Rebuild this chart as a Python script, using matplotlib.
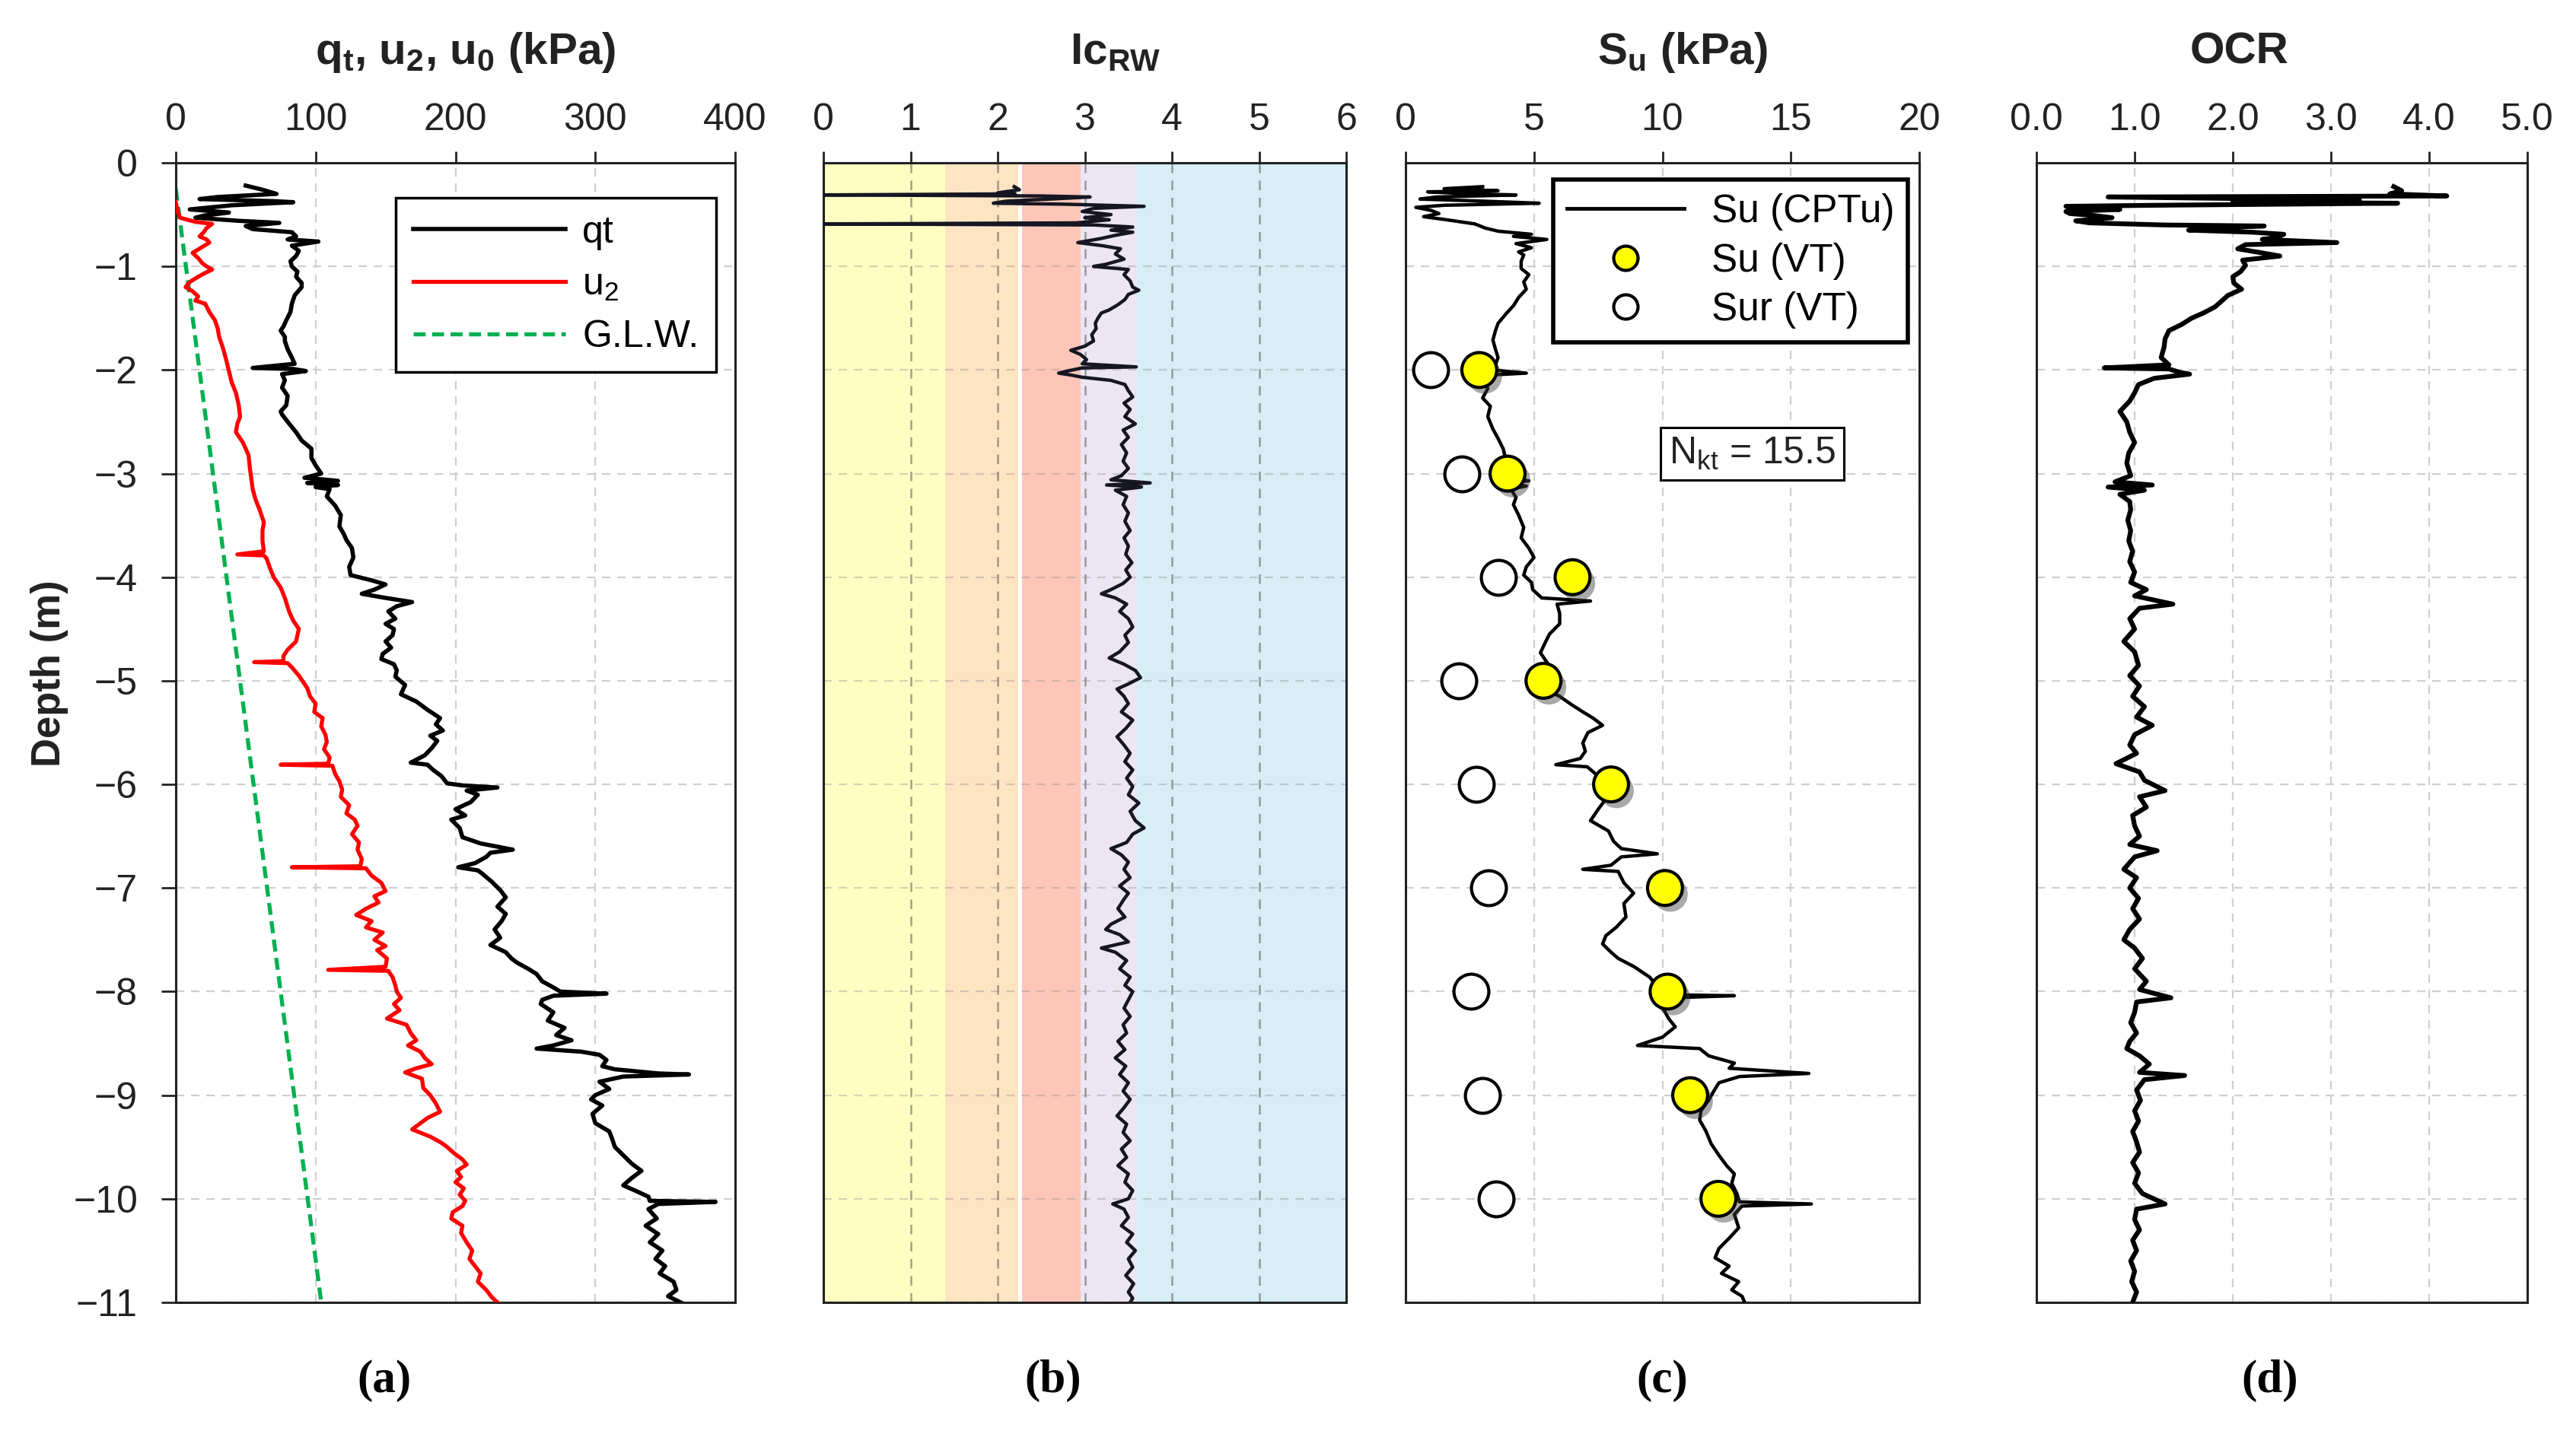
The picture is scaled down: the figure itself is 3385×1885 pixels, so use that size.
import numpy as np
import matplotlib
matplotlib.use('Agg')
import matplotlib.pyplot as plt
import matplotlib.patheffects as pe
from matplotlib.lines import Line2D

plt.rcParams['font.family'] = ['Liberation Sans', 'DejaVu Sans']
plt.rcParams['mathtext.default'] = 'regular'

# ---- data: (depth m, value) ----
qt_pts = [(-0.22, 50), (-0.26, 62), (-0.30, 72), (-0.33, 30), (-0.35, 17), (-0.37, 70), (-0.38, 84), (-0.41, 40),
          (-0.45, 10), (-0.48, 38), (-0.51, 20), (-0.53, 14), (-0.56, 45), (-0.58, 74), (-0.61, 50), (-0.64, 55),
          (-0.67, 83), (-0.71, 86), (-0.74, 80), (-0.76, 102), (-0.80, 83), (-0.85, 88), (-0.90, 86), (-0.95, 82),
          (-1.00, 83), (-1.05, 87), (-1.10, 86), (-1.16, 90), (-1.20, 90), (-1.28, 85), (-1.36, 83), (-1.44, 82),
          (-1.52, 79), (-1.58, 77), (-1.62, 75), (-1.68, 78), (-1.72, 78), (-1.80, 80), (-1.88, 83), (-1.94, 85),
          (-1.98, 55), (-1.99, 84), (-2.01, 93), (-2.04, 76), (-2.10, 78), (-2.17, 76), (-2.25, 80), (-2.34, 79),
          (-2.40, 75), (-2.43, 76), (-2.50, 80), (-2.60, 86), (-2.68, 90), (-2.76, 97), (-2.85, 97), (-2.92, 100),
          (-3.00, 104), (-3.04, 92), (-3.07, 116), (-3.09, 94), (-3.11, 116), (-3.13, 100), (-3.15, 110), (-3.22, 108),
          (-3.31, 114), (-3.40, 118), (-3.51, 117), (-3.58, 120), (-3.64, 122), (-3.72, 126), (-3.81, 127), (-3.90, 124),
          (-3.98, 125), (-4.03, 140), (-4.07, 150), (-4.12, 142), (-4.16, 133), (-4.20, 150), (-4.24, 169), (-4.28, 158),
          (-4.33, 152), (-4.40, 157), (-4.45, 150), (-4.50, 156), (-4.56, 155), (-4.62, 150), (-4.68, 154), (-4.74, 148),
          (-4.79, 147), (-4.84, 156), (-4.90, 158), (-4.96, 157), (-5.04, 164), (-5.13, 161), (-5.20, 172), (-5.28, 180),
          (-5.36, 189), (-5.42, 186), (-5.48, 191), (-5.53, 182), (-5.58, 187), (-5.65, 183), (-5.72, 178), (-5.79, 168),
          (-5.81, 180), (-5.86, 184), (-5.92, 190), (-5.99, 194), (-6.01, 205), (-6.03, 230), (-6.06, 208), (-6.10, 216),
          (-6.17, 211), (-6.24, 200), (-6.30, 207), (-6.34, 197), (-6.42, 203), (-6.51, 205), (-6.57, 218), (-6.63, 241),
          (-6.66, 225), (-6.70, 222), (-6.76, 214), (-6.80, 202), (-6.83, 216), (-6.86, 219), (-6.94, 226), (-7.02, 232),
          (-7.09, 236), (-7.18, 230), (-7.25, 236), (-7.32, 233), (-7.40, 228), (-7.48, 232), (-7.55, 225), (-7.62, 236),
          (-7.68, 240), (-7.72, 244), (-7.78, 252), (-7.83, 258), (-7.90, 262), (-7.96, 270), (-8.00, 275), (-8.02, 308),
          (-8.04, 270), (-8.08, 262), (-8.12, 261), (-8.20, 270), (-8.28, 266), (-8.35, 278), (-8.42, 272), (-8.47, 283),
          (-8.52, 270), (-8.55, 258), (-8.58, 290), (-8.61, 303), (-8.66, 308), (-8.72, 305), (-8.75, 314), (-8.79, 345),
          (-8.80, 367), (-8.82, 320), (-8.87, 303), (-8.94, 310), (-9.00, 300), (-9.04, 297), (-9.10, 305), (-9.18, 298),
          (-9.27, 300), (-9.35, 310), (-9.42, 312), (-9.50, 314), (-9.58, 320), (-9.66, 326), (-9.73, 333), (-9.80, 326),
          (-9.87, 320), (-9.93, 330), (-9.98, 338), (-10.02, 339), (-10.03, 386), (-10.05, 345), (-10.10, 338), (-10.19, 344),
          (-10.26, 336), (-10.34, 345), (-10.42, 339), (-10.50, 348), (-10.58, 343), (-10.65, 350), (-10.72, 346), (-10.80, 356),
          (-10.88, 358), (-10.94, 352), (-11.00, 361)]

u2_pts = [(-0.38, 0), (-0.45, 1), (-0.53, 3), (-0.57, 14), (-0.59, 26), (-0.63, 22), (-0.67, 20), (-0.71, 17),
          (-0.74, 22), (-0.77, 24), (-0.82, 18), (-0.87, 12), (-0.92, 16), (-0.97, 19), (-1.00, 22), (-1.03, 26),
          (-1.07, 20), (-1.10, 16), (-1.15, 10), (-1.20, 7), (-1.24, 12), (-1.29, 16), (-1.33, 14), (-1.36, 21),
          (-1.44, 24), (-1.52, 28), (-1.60, 30), (-1.68, 31), (-1.80, 34), (-1.90, 36), (-2.01, 38), (-2.12, 40),
          (-2.22, 43), (-2.34, 45), (-2.45, 46), (-2.52, 44), (-2.60, 43), (-2.70, 48), (-2.82, 52), (-2.95, 53),
          (-3.05, 54), (-3.15, 55), (-3.25, 57), (-3.35, 60), (-3.47, 63), (-3.55, 62), (-3.65, 62), (-3.75, 63),
          (-3.78, 44), (-3.79, 63), (-3.82, 65), (-3.90, 67), (-4.00, 70), (-4.10, 75), (-4.20, 78), (-4.33, 81),
          (-4.42, 84), (-4.50, 88), (-4.56, 87), (-4.62, 86), (-4.70, 80), (-4.76, 77), (-4.81, 77), (-4.82, 56),
          (-4.83, 80), (-4.87, 83), (-4.95, 88), (-5.07, 94), (-5.15, 96), (-5.22, 100), (-5.30, 99), (-5.36, 105),
          (-5.44, 104), (-5.52, 107), (-5.59, 108), (-5.66, 106), (-5.74, 110), (-5.80, 109), (-5.81, 75), (-5.82, 112),
          (-5.90, 114), (-5.97, 117), (-6.05, 119), (-6.12, 118), (-6.20, 124), (-6.28, 122), (-6.34, 128), (-6.40, 130),
          (-6.48, 126), (-6.56, 131), (-6.63, 130), (-6.72, 133), (-6.79, 132), (-6.80, 83), (-6.81, 136), (-6.88, 140),
          (-6.95, 147), (-7.03, 150), (-7.08, 142), (-7.14, 145), (-7.20, 136), (-7.26, 129), (-7.32, 140), (-7.38, 136),
          (-7.43, 148), (-7.50, 142), (-7.56, 150), (-7.60, 144), (-7.68, 151), (-7.76, 150), (-7.79, 109), (-7.80, 152),
          (-7.86, 155), (-7.94, 157), (-8.00, 158), (-8.06, 161), (-8.12, 156), (-8.18, 160), (-8.26, 151), (-8.32, 165),
          (-8.40, 168), (-8.47, 172), (-8.52, 166), (-8.58, 175), (-8.64, 178), (-8.70, 183), (-8.74, 172), (-8.78, 164),
          (-8.84, 176), (-8.93, 177), (-9.00, 182), (-9.08, 186), (-9.16, 189), (-9.22, 180), (-9.28, 174), (-9.33, 169),
          (-9.40, 182), (-9.46, 190), (-9.50, 194), (-9.56, 199), (-9.62, 205), (-9.67, 208), (-9.73, 201), (-9.79, 204),
          (-9.84, 200), (-9.90, 206), (-9.96, 203), (-10.02, 207), (-10.07, 205), (-10.13, 198), (-10.19, 197), (-10.26, 205),
          (-10.33, 204), (-10.42, 208), (-10.50, 212), (-10.58, 210), (-10.65, 214), (-10.72, 218), (-10.80, 216), (-10.88, 222),
          (-10.95, 226), (-11.00, 230)]

glw_pts = [(-0.25, 0), (-11.0, 104)]

ic_pts = [(-0.23, 2.19), (-0.26, 2.25), (-0.29, 2.0), (-0.30, 2.2), (-0.31, 0.0), (-0.32, 2.5), (-0.33, 3.06), (-0.35, 2.6),
          (-0.37, 2.1), (-0.39, 1.95), (-0.40, 2.8), (-0.42, 3.68), (-0.44, 3.1), (-0.47, 2.97), (-0.50, 3.3), (-0.53, 3.0),
          (-0.55, 3.28), (-0.58, 2.9), (-0.59, 0.0), (-0.60, 3.1), (-0.62, 3.55), (-0.65, 3.3), (-0.67, 3.55), (-0.70, 3.35),
          (-0.73, 3.19), (-0.77, 2.92), (-0.80, 3.2), (-0.83, 3.41), (-0.88, 3.35), (-0.93, 3.45), (-0.98, 3.24), (-1.00, 3.1),
          (-1.03, 3.5), (-1.08, 3.45), (-1.14, 3.52), (-1.20, 3.55), (-1.23, 3.62), (-1.27, 3.5), (-1.32, 3.46), (-1.37, 3.38),
          (-1.42, 3.28), (-1.45, 3.19), (-1.50, 3.15), (-1.55, 3.12), (-1.60, 3.13), (-1.66, 3.08), (-1.72, 3.1), (-1.77, 3.0),
          (-1.81, 2.84), (-1.85, 2.95), (-1.90, 3.02), (-1.94, 2.97), (-1.97, 3.59), (-1.98, 2.97), (-2.01, 2.8), (-2.03, 2.7),
          (-2.05, 2.85), (-2.07, 2.97), (-2.10, 3.3), (-2.14, 3.46), (-2.20, 3.5), (-2.26, 3.55), (-2.32, 3.45), (-2.38, 3.52),
          (-2.45, 3.46), (-2.52, 3.58), (-2.58, 3.44), (-2.65, 3.5), (-2.72, 3.42), (-2.80, 3.48), (-2.88, 3.44), (-2.95, 3.5),
          (-3.02, 3.42), (-3.06, 3.3), (-3.09, 3.75), (-3.11, 3.25), (-3.13, 3.65), (-3.16, 3.35), (-3.22, 3.48), (-3.30, 3.44),
          (-3.38, 3.5), (-3.46, 3.46), (-3.55, 3.52), (-3.62, 3.45), (-3.70, 3.5), (-3.78, 3.47), (-3.86, 3.54), (-3.93, 3.47),
          (-4.00, 3.52), (-4.06, 3.44), (-4.12, 3.3), (-4.16, 3.19), (-4.20, 3.35), (-4.26, 3.48), (-4.33, 3.4), (-4.40, 3.5),
          (-4.48, 3.55), (-4.56, 3.46), (-4.63, 3.5), (-4.72, 3.4), (-4.78, 3.28), (-4.84, 3.45), (-4.90, 3.58), (-4.97, 3.64),
          (-5.03, 3.5), (-5.08, 3.37), (-5.15, 3.45), (-5.22, 3.5), (-5.30, 3.42), (-5.38, 3.55), (-5.46, 3.47), (-5.54, 3.37),
          (-5.62, 3.45), (-5.70, 3.52), (-5.78, 3.46), (-5.86, 3.55), (-5.94, 3.48), (-6.02, 3.55), (-6.10, 3.5), (-6.18, 3.62),
          (-6.26, 3.52), (-6.35, 3.58), (-6.42, 3.68), (-6.48, 3.55), (-6.56, 3.48), (-6.62, 3.3), (-6.68, 3.42), (-6.75, 3.5),
          (-6.82, 3.45), (-6.90, 3.52), (-6.98, 3.4), (-7.05, 3.5), (-7.12, 3.44), (-7.20, 3.38), (-7.28, 3.46), (-7.35, 3.3),
          (-7.40, 3.24), (-7.45, 3.4), (-7.52, 3.5), (-7.58, 3.19), (-7.62, 3.35), (-7.70, 3.48), (-7.78, 3.4), (-7.86, 3.52),
          (-7.94, 3.46), (-8.00, 3.55), (-8.08, 3.5), (-8.16, 3.45), (-8.24, 3.52), (-8.32, 3.44), (-8.40, 3.48), (-8.48, 3.38),
          (-8.56, 3.46), (-8.64, 3.35), (-8.72, 3.47), (-8.80, 3.4), (-8.88, 3.5), (-8.96, 3.44), (-9.04, 3.52), (-9.12, 3.45),
          (-9.20, 3.37), (-9.28, 3.48), (-9.36, 3.44), (-9.44, 3.52), (-9.52, 3.42), (-9.60, 3.48), (-9.68, 3.38), (-9.76, 3.5),
          (-9.84, 3.46), (-9.92, 3.55), (-10.00, 3.5), (-10.05, 3.32), (-10.10, 3.45), (-10.18, 3.5), (-10.26, 3.42), (-10.34, 3.55),
          (-10.42, 3.48), (-10.50, 3.58), (-10.58, 3.5), (-10.66, 3.55), (-10.74, 3.47), (-10.82, 3.56), (-10.90, 3.5), (-10.96, 3.55),
          (-11.00, 3.52)]

# soil behaviour zones on the Ic chart
zone_lo = [0.0, 1.40, 2.28, 2.95, 3.60]
zone_hi = [1.40, 2.24, 2.95, 3.60, 6.0]
zone_colors = ['#fefec2', '#fde4c2', '#fdc6b8', '#ebe6f2', '#d6eef4']

su_pts = [(-0.23, 3.0), (-0.25, 1.5), (-0.27, 3.6), (-0.28, 0.86), (-0.30, 2.5), (-0.31, 4.3), (-0.33, 1.2), (-0.35, 0.56),
          (-0.37, 3.0), (-0.39, 5.2), (-0.41, 1.5), (-0.43, 0.4), (-0.46, 1.0), (-0.49, 1.3), (-0.52, 0.7), (-0.55, 1.6),
          (-0.59, 2.7), (-0.63, 3.1), (-0.66, 3.6), (-0.69, 4.9), (-0.71, 4.2), (-0.74, 5.5), (-0.78, 4.3), (-0.82, 4.9),
          (-0.86, 4.4), (-0.89, 4.6), (-0.95, 4.5), (-1.02, 4.5), (-1.08, 4.8), (-1.15, 4.6), (-1.22, 4.7), (-1.30, 4.4),
          (-1.38, 4.2), (-1.46, 3.9), (-1.55, 3.6), (-1.62, 3.5), (-1.71, 3.4), (-1.80, 3.5), (-1.88, 3.6), (-1.95, 3.5),
          (-2.00, 3.4), (-2.03, 4.7), (-2.05, 3.2), (-2.10, 3.1), (-2.18, 3.2), (-2.27, 3.0), (-2.35, 3.3), (-2.45, 3.2),
          (-2.57, 3.4), (-2.66, 3.6), (-2.76, 3.8), (-2.86, 3.9), (-2.96, 4.0), (-3.04, 3.6), (-3.07, 4.8), (-3.09, 3.8),
          (-3.12, 4.7), (-3.15, 4.1), (-3.23, 4.3), (-3.30, 4.2), (-3.40, 4.4), (-3.52, 4.6), (-3.62, 4.5), (-3.72, 4.8),
          (-3.81, 5.0), (-3.90, 4.7), (-3.98, 4.6), (-4.05, 4.9), (-4.12, 4.95), (-4.20, 5.3), (-4.23, 7.2), (-4.26, 5.9),
          (-4.35, 6.0), (-4.45, 6.0), (-4.55, 5.6), (-4.65, 5.4), (-4.73, 5.25), (-4.82, 5.5), (-4.90, 5.7), (-5.00, 5.5),
          (-5.08, 5.4), (-5.15, 6.0), (-5.23, 6.46), (-5.30, 6.9), (-5.36, 7.3), (-5.43, 7.67), (-5.50, 7.1), (-5.60, 6.9),
          (-5.68, 7.0), (-5.75, 6.8), (-5.81, 5.85), (-5.83, 7.07), (-5.92, 7.5), (-6.00, 8.0), (-6.06, 8.28), (-6.14, 7.8),
          (-6.24, 7.5), (-6.35, 7.2), (-6.45, 7.9), (-6.55, 8.1), (-6.62, 8.4), (-6.67, 9.8), (-6.70, 8.4), (-6.78, 8.0),
          (-6.82, 6.9), (-6.84, 8.28), (-6.95, 8.5), (-7.05, 8.88), (-7.15, 8.5), (-7.28, 8.58), (-7.38, 8.2), (-7.46, 7.8),
          (-7.54, 7.67), (-7.62, 8.0), (-7.68, 8.28), (-7.76, 8.9), (-7.86, 9.5), (-7.95, 9.8), (-8.03, 10.1), (-8.04, 12.8),
          (-8.06, 10.3), (-8.15, 10.0), (-8.26, 10.24), (-8.34, 10.5), (-8.44, 10.0), (-8.52, 9.03), (-8.55, 11.45), (-8.62, 11.8),
          (-8.69, 12.8), (-8.74, 12.6), (-8.79, 15.7), (-8.82, 13.0), (-8.88, 12.2), (-8.96, 12.0), (-9.05, 11.8), (-9.15, 11.5),
          (-9.24, 11.45), (-9.35, 11.7), (-9.47, 11.9), (-9.58, 12.2), (-9.68, 12.5), (-9.76, 12.8), (-9.85, 12.7), (-9.95, 12.9),
          (-10.03, 13.0), (-10.05, 15.8), (-10.07, 13.1), (-10.15, 12.8), (-10.28, 12.97), (-10.38, 12.6), (-10.48, 12.2), (-10.57, 12.05),
          (-10.65, 12.6), (-10.72, 12.3), (-10.80, 12.97), (-10.88, 12.7), (-10.94, 13.1), (-11.00, 13.2)]

vt_depth = [-2, -3, -4, -5, -6, -7, -8, -9, -10]
su_vt = [2.87, 3.97, 6.5, 5.37, 8.0, 10.1, 10.2, 11.08, 12.18]
sur_vt = [0.98, 2.2, 3.6, 2.08, 2.76, 3.22, 2.54, 3.0, 3.52]
nkt_label = 'N$_{kt}$ = 15.5'

ocr_pts = [(-0.23, 3.64), (-0.27, 3.72), (-0.30, 3.6), (-0.32, 4.18), (-0.33, 0.73), (-0.35, 2.5), (-0.36, 3.29), (-0.38, 2.0),
           (-0.39, 3.68), (-0.41, 1.2), (-0.42, 0.3), (-0.44, 0.6), (-0.45, 0.85), (-0.47, 0.3), (-0.49, 0.34), (-0.51, 0.6),
           (-0.53, 0.77), (-0.56, 0.4), (-0.58, 0.54), (-0.60, 1.3), (-0.61, 2.32), (-0.63, 1.8), (-0.65, 1.55), (-0.67, 2.2),
           (-0.69, 2.52), (-0.72, 2.44), (-0.74, 2.3), (-0.77, 3.06), (-0.79, 2.13), (-0.83, 2.05), (-0.87, 2.3), (-0.90, 2.48),
           (-0.94, 2.1), (-0.99, 2.13), (-1.05, 2.08), (-1.10, 2.0), (-1.16, 2.01), (-1.22, 2.09), (-1.28, 1.95), (-1.34, 1.88),
           (-1.39, 1.82), (-1.45, 1.7), (-1.50, 1.58), (-1.56, 1.48), (-1.62, 1.35), (-1.70, 1.31), (-1.78, 1.3), (-1.88, 1.27),
           (-1.95, 1.35), (-1.98, 0.69), (-1.99, 1.35), (-2.02, 1.45), (-2.04, 1.56), (-2.08, 1.2), (-2.14, 1.04), (-2.22, 1.0),
           (-2.30, 0.95), (-2.40, 0.85), (-2.50, 0.92), (-2.60, 0.95), (-2.70, 1.0), (-2.80, 0.94), (-2.90, 0.92), (-3.02, 0.96),
           (-3.08, 0.8), (-3.11, 1.18), (-3.13, 0.73), (-3.16, 1.1), (-3.20, 0.85), (-3.27, 0.95), (-3.35, 0.96), (-3.45, 0.93),
           (-3.55, 0.96), (-3.65, 0.94), (-3.75, 0.98), (-3.85, 0.95), (-3.95, 1.0), (-4.05, 0.96), (-4.12, 1.12), (-4.18, 1.0),
           (-4.26, 1.39), (-4.30, 1.05), (-4.40, 0.95), (-4.50, 1.0), (-4.62, 0.89), (-4.72, 1.0), (-4.85, 1.04), (-4.95, 0.95),
           (-5.05, 1.05), (-5.15, 0.98), (-5.25, 1.1), (-5.35, 1.02), (-5.43, 1.18), (-5.52, 1.0), (-5.62, 0.95), (-5.70, 1.02),
           (-5.80, 0.81), (-5.88, 1.05), (-5.96, 1.1), (-6.06, 1.31), (-6.12, 1.05), (-6.22, 1.12), (-6.30, 0.98), (-6.40, 1.0),
           (-6.50, 1.05), (-6.58, 0.95), (-6.64, 1.23), (-6.70, 1.0), (-6.82, 0.89), (-6.90, 1.02), (-7.00, 0.95), (-7.10, 1.04),
           (-7.20, 0.98), (-7.30, 1.05), (-7.40, 0.95), (-7.50, 0.89), (-7.58, 1.0), (-7.68, 1.08), (-7.78, 1.0), (-7.90, 1.12),
           (-7.98, 1.05), (-8.06, 1.37), (-8.10, 1.02), (-8.20, 1.0), (-8.30, 0.96), (-8.40, 1.02), (-8.48, 0.95), (-8.55, 0.92),
           (-8.62, 1.05), (-8.70, 1.15), (-8.78, 1.05), (-8.81, 1.51), (-8.85, 1.1), (-8.95, 1.02), (-9.05, 1.06), (-9.15, 1.0),
           (-9.25, 1.04), (-9.35, 0.98), (-9.45, 1.02), (-9.55, 1.05), (-9.65, 0.98), (-9.75, 1.04), (-9.85, 1.0), (-9.95, 1.08),
           (-10.05, 1.31), (-10.10, 1.02), (-10.20, 1.0), (-10.30, 1.05), (-10.40, 0.98), (-10.50, 1.02), (-10.60, 0.96), (-10.70, 1.0),
           (-10.80, 0.97), (-10.90, 1.02), (-11.00, 0.98)]

titles = [r'q$_t$, u$_2$, u$_0$ (kPa)', r'Ic$_{RW}$', r'S$_u$ (kPa)', 'OCR']
panel_tags = ['(a)', '(b)', '(c)', '(d)']
x_ticks = [[0, 100, 200, 300, 400], [0, 1, 2, 3, 4, 5, 6], [0, 5, 10, 15, 20], [0, 1, 2, 3, 4, 5]]
x_ticklabels = [['0', '100', '200', '300', '400'], ['0', '1', '2', '3', '4', '5', '6'],
                ['0', '5', '10', '15', '20'], ['0.0', '1.0', '2.0', '3.0', '4.0', '5.0']]
depth_ticks = list(range(0, -12, -1))


def split(pts):
    arr = np.array(pts, dtype=float)
    return arr[:, 1], arr[:, 0]


W, H = 3385, 1885
fig = plt.figure(figsize=(W / 100, H / 100), dpi=100)

# axes boxes in pixels (left, right)
boxes = [(231, 966), (1082, 1769), (1847, 2522), (2676, 3321)]
top_px, bot_px = 214, 1712
axes = []
for l, r in boxes:
    axes.append(fig.add_axes([l / W, 1 - bot_px / H, (r - l) / W, (bot_px - top_px) / H]))

for i, ax in enumerate(axes):
    ax.set_xlim(x_ticks[i][0], x_ticks[i][-1])
    ax.set_ylim(-11, 0)
    ax.xaxis.tick_top()
    ax.set_xticks(x_ticks[i])
    ax.set_xticklabels(x_ticklabels[i])
    ax.set_yticks(depth_ticks)
    ax.tick_params(axis='x', direction='out', length=11, width=2, pad=13, labelsize=36, colors='#222222')
    for s in ax.spines.values():
        s.set_linewidth(2.2)
        s.set_color('#222222')
    if i == 1:
        ax.grid(True, axis='x', ls=(0, (5, 4)), color='#555555', alpha=0.55, lw=1.8)
        ax.grid(True, axis='y', ls=(0, (5, 4)), color='#888888', alpha=0.35, lw=1.6)
    else:
        ax.grid(True, ls=(0, (5, 4)), color='#cfcfcf', lw=1.6)
    ax.set_axisbelow(True)
    if i == 0:
        ax.tick_params(axis='y', direction='out', length=14, width=2, pad=22, labelsize=36, colors='#222222')
    else:
        ax.tick_params(axis='y', length=0, labelleft=False)

title_x = [612, 1466, 2211, 2943]
for i in range(4):
    fig.text(title_x[i] / W, 1 - 84 / H, titles[i], ha='center', va='baseline',
             fontsize=42, fontweight='bold', color='#222222')

tag_x = [505, 1384, 2184, 2983]
for i in range(4):
    fig.text(tag_x[i] / W, 1 - 1815 / H, panel_tags[i], ha='center', va='center',
             fontsize=44, fontweight='bold', family=['Liberation Serif', 'DejaVu Serif'])

fig.text(65 / W, 1 - 885 / H, 'Depth (m)', rotation=90, ha='center', va='center',
         fontsize=38, fontweight='bold', color='#222222')

# (a) qt, u2, u0
ax = axes[0]
x, y = split(qt_pts)
ax.plot(x, y, color='black', lw=4.0, label='qt', zorder=3)
x, y = split(u2_pts)
ax.plot(x, y, color='#ff0000', lw=3.8, label='u$_2$', zorder=3)
x, y = split(glw_pts)
ax.plot(x, y, color='#00b050', lw=3.8, ls=(0, (3, 1.6)), label='G.L.W.', zorder=2)
leg = ax.legend(loc='upper right', bbox_to_anchor=(0.966, 0.969), borderaxespad=0, fontsize=36,
                fancybox=False, edgecolor='black', framealpha=1, handlelength=4.0, handletextpad=0.45,
                borderpad=0.45, labelspacing=0.45)
leg.get_frame().set_linewidth(2.5)

# (b) Ic_RW with zone bands
ax = axes[1]
for lo, hi, c in zip(zone_lo, zone_hi, zone_colors):
    ax.axvspan(lo, hi, color=c, lw=0, zorder=0)
x, y = split(ic_pts)
ax.plot(x, y, color='#161622', lw=3.2, zorder=3)

# (c) Su
ax = axes[2]
x, y = split(su_pts)
ax.plot(x, y, color='black', lw=3.2, zorder=3)
ax.plot(sur_vt, vt_depth, ls='none', marker='o', ms=33, mfc='white', mec='black', mew=3, zorder=4)
ax.plot(su_vt, vt_depth, ls='none', marker='o', ms=33, mfc='#ffff00', mec='black', mew=3, zorder=5,
        path_effects=[pe.SimplePatchShadow(offset=(5, -6), shadow_rgbFace='0.25', alpha=0.45), pe.Normal()])
handles = [Line2D([], [], color='black', lw=3.5),
           Line2D([], [], ls='none', marker='o', ms=23, mfc='#ffff00', mec='black', mew=3),
           Line2D([], [], ls='none', marker='o', ms=23, mfc='white', mec='black', mew=3)]
leg = ax.legend(handles, ['Su (CPTu)', 'Su (VT)', 'Sur (VT)'], loc='upper right', bbox_to_anchor=(0.978, 0.985),
                borderaxespad=0, fontsize=37, fancybox=False, edgecolor='black', framealpha=1,
                handlelength=3.0, handletextpad=0.7, borderpad=0.35, labelspacing=0.3)
leg.get_frame().set_linewidth(4)
ax.text(13.5, -2.81, nkt_label, ha='center', va='center', fontsize=36, color='#222222', zorder=6,
        bbox=dict(boxstyle='square,pad=0.22', fc='white', ec='black', lw=2.2))

# (d) OCR
ax = axes[3]
x, y = split(ocr_pts)
ax.plot(x, y, color='black', lw=4.5, zorder=3)

fig.savefig('out.png', dpi=100)
